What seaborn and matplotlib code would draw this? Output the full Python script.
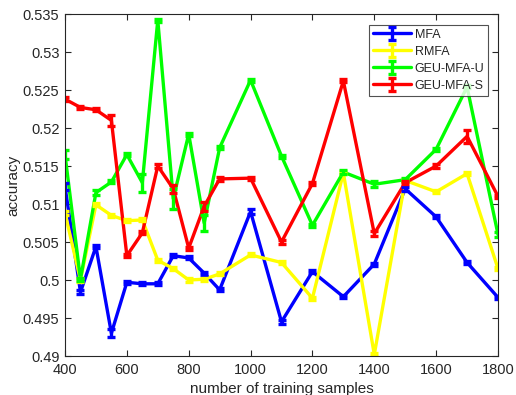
import numpy as np
import pandas as pd
import matplotlib
matplotlib.use("Agg")
import matplotlib.pyplot as plt
from matplotlib.ticker import FuncFormatter
import seaborn as sns

x = [400, 450, 500, 550, 600, 650, 700, 750, 800, 850, 900, 1000, 1100, 1200, 1300, 1400, 1500, 1600, 1700, 1800]

mfa = [0.5123, 0.4984, 0.5044, 0.4930, 0.4997, 0.4995, 0.4995, 0.5032, 0.5029, 0.5009, 0.4987, 0.5090,
       0.4945, 0.5011, 0.4978, 0.5021, 0.5120, 0.5083, 0.5023, 0.4977]
mfa_err = [0.0004, 0.0003, 0.0002, 0.0005, 0.0002, 0.0002, 0.0002, 0.0002, 0.0002, 0.0002, 0.0002, 0.0003,
           0.0003, 0.0002, 0.0002, 0.0002, 0.0003, 0.0002, 0.0002, 0.0002]

rmfa = [0.5088, 0.5000, 0.5099, 0.5085, 0.5078, 0.5079, 0.5026, 0.5015, 0.5000, 0.5001, 0.5008, 0.5033,
        0.5023, 0.4976, 0.5141, 0.4902, 0.5131, 0.5116, 0.5140, 0.5015]
rmfa_err = [0.0003, 0.0002, 0.0002, 0.0002, 0.0002, 0.0002, 0.0002, 0.0002, 0.0003, 0.0002, 0.0002, 0.0002,
            0.0002, 0.0002, 0.0002, 0.0002, 0.0002, 0.0002, 0.0002, 0.0002]

geu_u = [0.5165, 0.5001, 0.5115, 0.5129, 0.5165, 0.5128, 0.5342, 0.5107, 0.5192, 0.5075, 0.5174, 0.5263,
         0.5163, 0.5072, 0.5142, 0.5126, 0.5132, 0.5172, 0.5254, 0.5060]
geu_u_err = [0.0006, 0.0002, 0.0003, 0.0002, 0.0002, 0.0012, 0.0002, 0.0013, 0.0002, 0.0011, 0.0002, 0.0002,
             0.0002, 0.0002, 0.0003, 0.0004, 0.0002, 0.0002, 0.0002, 0.0003]

geu_s = [0.5238, 0.5227, 0.5224, 0.5210, 0.5032, 0.5062, 0.5150, 0.5120, 0.5042, 0.5097, 0.5133, 0.5134,
         0.5050, 0.5127, 0.5262, 0.5061, 0.5128, 0.5150, 0.5189, 0.5110]
geu_s_err = [0.0003, 0.0002, 0.0002, 0.0007, 0.0002, 0.0002, 0.0003, 0.0005, 0.0002, 0.0006, 0.0003, 0.0002,
             0.0002, 0.0002, 0.0002, 0.0003, 0.0002, 0.0003, 0.0009, 0.0002]

names = ["MFA", "RMFA", "GEU-MFA-U", "GEU-MFA-S"]
colors = ["#0000ff", "#ffff00", "#00ff00", "#ff0000"]

sns.set_style("white")
plt.rcParams["font.family"] = ["Liberation Sans", "DejaVu Sans"]

series = [(mfa, mfa_err), (rmfa, rmfa_err), (geu_u, geu_u_err), (geu_s, geu_s_err)]
frames = []
for n, (v, e) in zip(names, series):
    frames.append(pd.DataFrame({"x": x, "acc": v, "err": e, "method": n}))
df = pd.concat(frames, ignore_index=True)

fig = plt.figure(figsize=(5.16, 3.95), dpi=100)
ax = fig.add_axes([65 / 516, 1 - 356 / 395, (498 - 65) / 516, (356 - 14) / 395])

lw = 2.4
sns.lineplot(data=df, x="x", y="acc", hue="method", palette=dict(zip(names, colors)),
             linewidth=lw, legend=False, ax=ax, sort=False, estimator=None)

handles = []
for n, c in zip(names, colors):
    d = df[df["method"] == n]
    ax.errorbar(d["x"], d["acc"], yerr=d["err"], fmt="none", ecolor=c, elinewidth=lw,
                capsize=3.0, capthick=lw)
    h = ax.errorbar([np.nan], [np.nan], yerr=[0.001], fmt="-", color=c, lw=lw,
                    capsize=3.0, capthick=lw, label=n)
    handles.append(h)

ax.set_xlim(400, 1800)
ax.set_ylim(0.49, 0.535)
ax.set_xticks(np.arange(400, 1801, 200))
ax.set_yticks(np.arange(0.49, 0.5351, 0.005))
ax.yaxis.set_major_formatter(FuncFormatter(lambda v, p: "%g" % round(v, 3)))
ax.set_xlabel("number of training samples", fontsize=11, color="#262626", labelpad=4)
ax.set_ylabel("accuracy", fontsize=11, color="#262626", labelpad=2)
ax.tick_params(direction="in", length=4, width=0.8, colors="#262626", labelsize=10.5,
               top=True, right=True, bottom=True, left=True)
ax.tick_params(axis="x", pad=5)
ax.tick_params(axis="y", pad=4)
for s in ax.spines.values():
    s.set_color("#262626")
    s.set_linewidth(0.8)

leg = ax.legend(handles=handles, labels=names, loc="upper right",
                bbox_to_anchor=((488 - 65) / 433, (356 - 25) / 342),
                fontsize=9, frameon=True, fancybox=False, handlelength=3.1,
                borderpad=0.3, labelspacing=0.4, handletextpad=0.25, borderaxespad=0.0)
leg.get_frame().set_edgecolor("#262626")
leg.get_frame().set_linewidth(0.8)

fig.savefig("out.png", dpi=100)
